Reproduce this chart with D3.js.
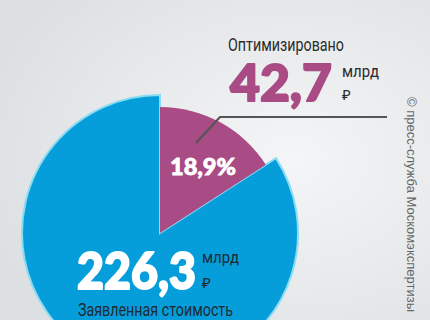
<!DOCTYPE html>
<html>
<head>
<meta charset="utf-8">
<script src="https://cdn.jsdelivr.net/npm/d3@7"></script>
<style>
  html, body { margin: 0; padding: 0; }
  body { width: 430px; height: 320px; overflow: hidden; }
  svg { display: block; }
</style>
</head>
<body>
<svg id="canvas" width="430" height="320"></svg>
<script>
// data
const categories = ["Оптимизировано", "Заявленная стоимость"];
const values = [42.7, 226.3];
const unitTop = "млрд";
const unitBottom = "₽";
const credit = "© пресс-служба Москомэкспертизы";

const colors = ["#a94b85", "#069ddb"];
const radii = [126, 138];

const width = 430, height = 320;
const cx = 160, cy = 233;

const svg = d3.select("#canvas");

// background
const defs = svg.append("defs");
const grad = defs.append("radialGradient")
  .attr("id", "bg")
  .attr("cx", 0.68).attr("cy", 0.5).attr("r", 0.75);
grad.append("stop").attr("offset", "0%").attr("stop-color", "#f4f5f6");
grad.append("stop").attr("offset", "100%").attr("stop-color", "#dde0e3");
svg.append("rect").attr("width", width).attr("height", height).attr("fill", "url(#bg)");

const pie = d3.pie().sort(null).value(d => d);
const arcs = pie(values);

const g = svg.append("g").attr("transform", `translate(${cx},${cy})`);

// blue slice first, magenta on top
g.append("path")
  .attr("d", d3.arc().innerRadius(0).outerRadius(radii[1])(arcs[1]))
  .attr("fill", colors[1])
  .attr("stroke", "#8adcf2")
  .attr("stroke-width", 2)
  .attr("stroke-linejoin", "miter");

g.append("path")
  .attr("d", d3.arc().innerRadius(0).outerRadius(radii[0])(arcs[0]))
  .attr("fill", colors[0]);

// share of the optimised sum in the declared cost
const share = d3.format(".1f")(values[0] / values[1] * 100).replace(".", ",") + "%";

// leader line
svg.append("polyline")
  .attr("points", "196,143 220,117 387,117")
  .attr("fill", "none")
  .attr("stroke", "#555")
  .attr("stroke-width", 2.2);

const bold = "Lato, 'Open Sans', 'DejaVu Sans', sans-serif";
const cond = "Roboto, 'Liberation Sans', sans-serif";

// percent label
svg.append("text")
  .attr("x", 170).attr("y", 175)
  .attr("textLength", 66).attr("lengthAdjust", "spacingAndGlyphs")
  .attr("font-family", bold).attr("font-weight", 900)
  .attr("font-size", 23).attr("fill", "#fff")
  .attr("stroke", "#fff").attr("stroke-width", 0.8)
  .text(share);

// top label
svg.append("text")
  .attr("x", 228).attr("y", 51)
  .attr("textLength", 116).attr("lengthAdjust", "spacingAndGlyphs")
  .attr("font-family", cond).attr("font-size", 18).attr("fill", "#2b2b2b")
  .text(categories[0]);

const fmt = v => d3.format(".1f")(v).replace(".", ",");

svg.append("text")
  .attr("x", 230).attr("y", 101)
  .attr("textLength", 102).attr("lengthAdjust", "spacingAndGlyphs")
  .attr("font-family", bold).attr("font-weight", 900)
  .attr("font-size", 52).attr("fill", colors[0])
  .attr("stroke", colors[0]).attr("stroke-width", 2)
  .attr("stroke-linejoin", "round")
  .text(fmt(values[0]));

svg.append("text")
  .attr("x", 342).attr("y", 77)
  .attr("textLength", 37).attr("lengthAdjust", "spacingAndGlyphs")
  .attr("font-family", cond).attr("font-size", 16).attr("fill", "#2b2b2b")
  .text(unitTop);

svg.append("text")
  .attr("x", 342).attr("y", 100)
  .attr("font-family", "'Noto Sans', 'DejaVu Sans', sans-serif").attr("font-size", 15).attr("fill", "#2b2b2b")
  .text(unitBottom);

// bottom label
svg.append("text")
  .attr("x", 77).attr("y", 289)
  .attr("textLength", 119).attr("lengthAdjust", "spacingAndGlyphs")
  .attr("font-family", bold).attr("font-weight", 900)
  .attr("font-size", 51).attr("fill", "#fff")
  .attr("stroke", "#fff").attr("stroke-width", 2)
  .attr("stroke-linejoin", "round")
  .text(fmt(values[1]));

svg.append("text")
  .attr("x", 202).attr("y", 263)
  .attr("textLength", 37).attr("lengthAdjust", "spacingAndGlyphs")
  .attr("font-family", cond).attr("font-size", 16).attr("fill", "#1f2a33")
  .text(unitTop);

svg.append("text")
  .attr("x", 202).attr("y", 288)
  .attr("font-family", "'Noto Sans', 'DejaVu Sans', sans-serif").attr("font-size", 15).attr("fill", "#1f2a33")
  .text(unitBottom);

svg.append("text")
  .attr("x", 78).attr("y", 316)
  .attr("textLength", 155).attr("lengthAdjust", "spacingAndGlyphs")
  .attr("font-family", cond).attr("font-size", 18).attr("fill", "#1f2a33")
  .text(categories[1]);

// credit, vertical
svg.append("text")
  .attr("transform", "translate(407,97) rotate(90)")
  .attr("font-family", "'Liberation Sans', Arial, sans-serif")
  .attr("font-size", 13).attr("fill", "#666")
  .text(credit);
</script>
</body>
</html>
